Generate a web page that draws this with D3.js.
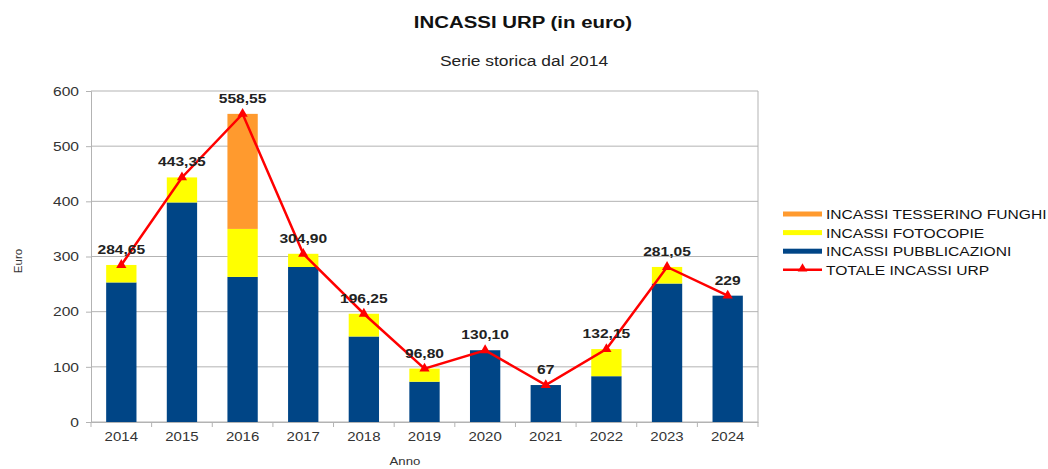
<!DOCTYPE html>
<html><head><meta charset="utf-8">
<script src="https://cdn.jsdelivr.net/npm/d3@7"></script>
<style>
body{margin:0;background:#fff}
svg{display:block;font-family:"Liberation Sans",Arial,sans-serif}
.sx{transform-box:fill-box;transform:scaleX(1.2);transform-origin:center}
.sxs{transform-box:fill-box;transform:scaleX(1.2);transform-origin:left center}
.sxe{transform-box:fill-box;transform:scaleX(1.2);transform-origin:right center}
</style>
</head><body><div id="c"></div>
<script>
const years = ["2014","2015","2016","2017","2018","2019","2020","2021","2022","2023","2024"];
const pubblicazioni = [253, 398, 263, 281, 155, 73, 130.10, 67, 83, 251, 229];
const fotocopie = [31.65, 45.35, 87, 23.9, 41.25, 23.8, 0, 0, 49.15, 30.05, 0];
const tesserino = [0, 0, 208.55, 0, 0, 0, 0, 0, 0, 0, 0];
const totale = [284.65, 443.35, 558.55, 304.90, 196.25, 96.80, 130.10, 67, 132.15, 281.05, 229];
const totaleLabels = ["284,65","443,35","558,55","304,90","196,25","96,80","130,10","67","132,15","281,05","229"];
const yTicks = [0,100,200,300,400,500,600];

const W=1048,H=469;
const m={l:91,r:290,t:91,b:47};
const svg=d3.select("#c").append("svg").attr("width",W).attr("height",H);
const x=d3.scaleBand().domain(years).range([m.l,W-m.r]).paddingInner(0.5).paddingOuter(0.25);
const y=d3.scaleLinear().domain([0,600]).range([H-m.b,m.t]);

// grid
svg.append("g").selectAll("line").data(yTicks).join("line")
 .attr("x1",m.l).attr("x2",W-m.r).attr("y1",d=>y(d)).attr("y2",d=>y(d))
 .attr("stroke","#b3b3b3").attr("stroke-width",1);
svg.append("line").attr("x1",W-m.r).attr("x2",W-m.r).attr("y1",m.t).attr("y2",H-m.b).attr("stroke","#b3b3b3");

const rows=years.map((yr,i)=>({yr,pub:pubblicazioni[i],foto:fotocopie[i],tess:tesserino[i]}));
const stack=d3.stack().keys(["pub","foto","tess"])(rows);
const colors={pub:"#004586",foto:"#ffff00",tess:"#ff9a2e"};
svg.append("g").selectAll("g").data(stack).join("g").attr("fill",d=>colors[d.key])
 .selectAll("rect").data(d=>d).join("rect")
 .attr("x",d=>x(d.data.yr)).attr("width",x.bandwidth())
 .attr("y",d=>y(d[1])).attr("height",d=>y(d[0])-y(d[1]));

// axes
const ya=d3.axisLeft(y).tickValues(yTicks).tickSize(5).tickPadding(7);
const gy=svg.append("g").attr("transform",`translate(${m.l},0)`).call(ya);
gy.select(".domain").attr("stroke","#b3b3b3");
gy.selectAll(".tick line").attr("stroke","#b3b3b3");
gy.selectAll("text").attr("font-size",13).attr("fill","#333").attr("class","sxe");

const xa=d3.axisBottom(x).tickSize(0).tickPadding(10);
const gx=svg.append("g").attr("transform",`translate(0,${H-m.b})`).call(xa);
gx.select(".domain").attr("stroke","#b3b3b3");
gx.selectAll("text").attr("font-size",12.5).attr("fill","#333").attr("class","sx");
const seps=d3.range(years.length+1);
svg.append("g").selectAll("line").data(seps).join("line")
 .attr("x1",i=>m.l+i*(W-m.r-m.l)/years.length).attr("x2",i=>m.l+i*(W-m.r-m.l)/years.length)
 .attr("y1",H-m.b).attr("y2",H-m.b+5).attr("stroke","#b3b3b3");

// line
const cx=i=>x(years[i])+x.bandwidth()/2;
svg.append("path").datum(totale).attr("fill","none").attr("stroke","#ff0000").attr("stroke-width",2.5)
 .attr("d",d3.line().x((d,i)=>cx(i)).y(d=>y(d)));
svg.append("g").selectAll("path").data(totale).join("path")
 .attr("d",d3.symbol(d3.symbolTriangle,45)).attr("fill","#ff0000")
 .attr("transform",(d,i)=>`translate(${cx(i)},${y(d)})`);
svg.append("g").selectAll("text").data(totale).join("text")
 .attr("x",(d,i)=>cx(i)).attr("y",d=>y(d)-11).attr("text-anchor","middle")
 .attr("font-size",13).attr("font-weight","bold").attr("fill","#222").attr("class","sx")
 .text((d,i)=>totaleLabels[i]);

// titles
svg.append("text").attr("x",523).attr("y",28).attr("text-anchor","middle").attr("font-size",17).attr("font-weight","bold").attr("fill","#111").attr("class","sx").text("INCASSI URP (in euro)");
svg.append("text").attr("x",524).attr("y",66).attr("text-anchor","middle").attr("font-size",14.5).attr("fill","#222").attr("class","sx").text("Serie storica dal 2014");
svg.append("text").attr("transform","translate(22,261) rotate(-90)").attr("text-anchor","middle").attr("font-size",11.5).attr("fill","#333").text("Euro");
svg.append("text").attr("x",405).attr("y",465).attr("text-anchor","middle").attr("font-size",11).attr("fill","#333").attr("class","sx").text("Anno");

// legend
const leg=[{t:"INCASSI TESSERINO FUNGHI",c:"#ff9a2e",type:"bar"},{t:"INCASSI FOTOCOPIE",c:"#ffff00",type:"bar"},{t:"INCASSI PUBBLICAZIONI",c:"#004586",type:"bar"},{t:"TOTALE INCASSI URP",c:"#ff0000",type:"line"}];
const lg=svg.append("g").selectAll("g").data(leg).join("g").attr("transform",(d,i)=>`translate(783,${214+i*18.6})`);
lg.filter(d=>d.type==="bar").append("rect").attr("x",0).attr("y",-2.5).attr("width",39).attr("height",5).attr("fill",d=>d.c);
lg.filter(d=>d.type==="line").append("line").attr("x1",0).attr("x2",39).attr("y1",0).attr("y2",0).attr("stroke","#ff0000").attr("stroke-width",2.5);
lg.filter(d=>d.type==="line").append("path").attr("d",d3.symbol(d3.symbolTriangle,40)).attr("transform","translate(19.5,-1)").attr("fill","#ff0000");
lg.append("text").attr("x",43).attr("y",5).attr("font-size",13).attr("fill","#111").attr("class","sxs").text(d=>d.t);
</script></body></html>
